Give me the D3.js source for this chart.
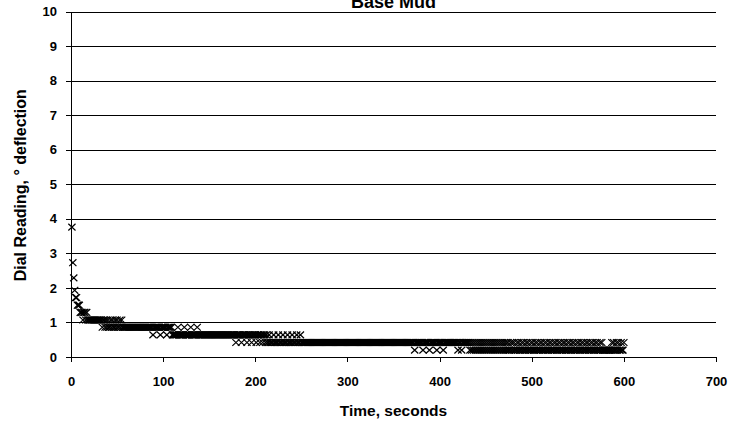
<!DOCTYPE html>
<html><head><meta charset="utf-8">
<script src="https://cdn.jsdelivr.net/npm/d3@7"></script>
<style>
body{margin:0;background:#fff}
svg{display:block}
text{font-family:"Liberation Sans",Arial,sans-serif;font-weight:bold;fill:#000}
</style>
</head><body>
<svg id="chart" width="733" height="429"></svg>
<script>
const chartTitle = "Base Mud";
const xTitle = "Time, seconds";
const yTitle = "Dial Reading, ° deflection";
const xTickValues = [0, 100, 200, 300, 400, 500, 600, 700];
const yTickValues = [0, 1, 2, 3, 4, 5, 6, 7, 8, 9, 10];
const firstSecond = 1; // logger records one reading per second
// dial readings, one per second, from t = 1 s to t = 600 s
const readings = [
3.76,2.73,2.29,1.93,1.72,1.72,1.5,1.5,1.5,1.29,1.29,1.29,1.07,1.29,1.29,1.07,1.29,1.07,1.07,1.07,
1.07,1.07,1.07,1.07,1.07,1.07,1.07,1.07,1.07,1.07,1.07,1.07,1.07,0.86,1.07,1.07,0.86,1.07,0.86,1.07,
0.86,0.86,1.07,0.86,1.07,0.86,0.86,1.07,0.86,1.07,0.86,0.86,1.07,0.86,1.07,0.86,0.86,0.86,0.86,0.86,
0.86,0.86,0.86,0.86,0.86,0.86,0.86,0.86,0.86,0.86,0.86,0.86,0.86,0.86,0.86,0.86,0.86,0.86,0.86,0.86,
0.86,0.86,0.86,0.86,0.86,0.86,0.86,0.86,0.64,0.86,0.86,0.86,0.86,0.86,0.86,0.86,0.64,0.86,0.86,0.86,
0.86,0.86,0.86,0.64,0.86,0.86,0.86,0.86,0.86,0.64,0.64,0.64,0.64,0.64,0.64,0.86,0.64,0.64,0.64,0.64,
0.64,0.64,0.86,0.64,0.64,0.64,0.64,0.64,0.64,0.86,0.64,0.64,0.64,0.64,0.64,0.64,0.86,0.64,0.64,0.64,
0.64,0.64,0.64,0.64,0.64,0.64,0.64,0.64,0.64,0.64,0.64,0.64,0.64,0.64,0.64,0.64,0.64,0.64,0.64,0.64,
0.64,0.64,0.64,0.64,0.64,0.64,0.64,0.64,0.64,0.64,0.64,0.64,0.64,0.64,0.64,0.64,0.64,0.64,0.42,0.64,
0.64,0.64,0.64,0.64,0.42,0.64,0.64,0.64,0.64,0.64,0.42,0.64,0.64,0.64,0.64,0.42,0.64,0.64,0.64,0.64,
0.42,0.64,0.64,0.64,0.42,0.64,0.64,0.42,0.64,0.64,0.42,0.64,0.42,0.42,0.64,0.42,0.42,0.42,0.42,0.64,
0.42,0.42,0.42,0.42,0.64,0.42,0.42,0.42,0.42,0.64,0.42,0.42,0.42,0.42,0.64,0.42,0.42,0.42,0.42,0.64,
0.42,0.42,0.42,0.42,0.64,0.42,0.42,0.42,0.64,0.42,0.42,0.42,0.42,0.42,0.42,0.42,0.42,0.42,0.42,0.42,
0.42,0.42,0.42,0.42,0.42,0.42,0.42,0.42,0.42,0.42,0.42,0.42,0.42,0.42,0.42,0.42,0.42,0.42,0.42,0.42,
0.42,0.42,0.42,0.42,0.42,0.42,0.42,0.42,0.42,0.42,0.42,0.42,0.42,0.42,0.42,0.42,0.42,0.42,0.42,0.42,
0.42,0.42,0.42,0.42,0.42,0.42,0.42,0.42,0.42,0.42,0.42,0.42,0.42,0.42,0.42,0.42,0.42,0.42,0.42,0.42,
0.42,0.42,0.42,0.42,0.42,0.42,0.42,0.42,0.42,0.42,0.42,0.42,0.42,0.42,0.42,0.42,0.42,0.42,0.42,0.42,
0.42,0.42,0.42,0.42,0.42,0.42,0.42,0.42,0.42,0.42,0.42,0.42,0.42,0.42,0.42,0.42,0.42,0.42,0.42,0.42,
0.42,0.42,0.42,0.42,0.42,0.42,0.42,0.42,0.42,0.42,0.42,0.42,0.2,0.42,0.42,0.42,0.42,0.42,0.42,0.42,
0.42,0.2,0.42,0.42,0.42,0.42,0.42,0.42,0.2,0.42,0.42,0.42,0.42,0.42,0.42,0.42,0.2,0.42,0.42,0.42,
0.42,0.42,0.42,0.2,0.42,0.42,0.42,0.42,0.42,0.42,0.42,0.42,0.42,0.42,0.42,0.42,0.42,0.42,0.42,0.2,
0.42,0.42,0.42,0.2,0.42,0.42,0.42,0.42,0.42,0.42,0.42,0.42,0.2,0.42,0.2,0.42,0.2,0.42,0.2,0.42,
0.2,0.42,0.2,0.42,0.2,0.42,0.2,0.42,0.2,0.42,0.2,0.42,0.2,0.42,0.2,0.42,0.2,0.42,0.2,0.42,
0.2,0.42,0.2,0.42,0.2,0.42,0.2,0.42,0.2,0.42,0.2,0.42,0.2,0.42,0.2,0.2,0.42,0.2,0.42,0.2,
0.42,0.2,0.2,0.42,0.2,0.42,0.2,0.2,0.42,0.2,0.42,0.2,0.2,0.42,0.2,0.42,0.2,0.2,0.42,0.2,
0.42,0.2,0.2,0.42,0.2,0.42,0.2,0.2,0.42,0.2,0.42,0.2,0.2,0.42,0.2,0.42,0.2,0.2,0.42,0.2,
0.42,0.2,0.2,0.42,0.2,0.42,0.2,0.2,0.42,0.2,0.42,0.2,0.2,0.42,0.2,0.42,0.2,0.2,0.42,0.2,
0.42,0.2,0.2,0.42,0.2,0.42,0.2,0.2,0.42,0.2,0.42,0.2,0.2,0.42,0.2,0.42,0.2,0.2,0.42,0.2,
0.42,0.2,0.2,0.42,0.2,0.42,0.2,0.2,0.42,0.2,0.42,0.2,0.2,0.42,0.2,0.42,0.2,0.2,0.2,0.2,
0.2,0.2,0.2,0.2,0.2,0.2,0.42,0.2,0.42,0.2,0.2,0.42,0.2,0.42,0.2,0.2,0.42,0.2,0.2,0.42
];
const points = readings.map((v, i) => ({ t: firstSecond + i, v }));

const svg = d3.select("#chart");
const x = d3.scaleLinear().domain([0, 700]).range([71, 716]);
const y = d3.scaleLinear().domain([0, 10]).range([357, 11.5]);
const fontFam = "Liberation Sans, Arial, sans-serif";

// horizontal gridlines
svg.append("g")
  .attr("transform", `translate(${x(0)},0)`)
  .call(d3.axisLeft(y).tickValues(yTickValues.filter(d => d > 0)).tickSize(-(x(700) - x(0))).tickFormat(""))
  .call(g => g.select(".domain").remove())
  .call(g => g.selectAll("line").attr("stroke", "#000").attr("stroke-width", 1).attr("shape-rendering", "crispEdges"));

// markers
const m = 3.6, h = 3.4;
svg.append("g").selectAll("path").data(points).join("path")
  .attr("transform", d => `translate(${x(d.t)},${y(d.v)})`)
  .attr("d", `M${-m},${-h}L${m},${h}M${-m},${h}L${m},${-h}`)
  .attr("fill", "none").attr("stroke", "#000").attr("stroke-width", 1.2);

// y axis
svg.append("g")
  .attr("transform", `translate(${x(0)},0)`)
  .call(d3.axisLeft(y).tickValues(yTickValues).tickSize(5).tickPadding(9).tickFormat(d3.format("d")))
  .call(g => g.selectAll("line,path").attr("stroke", "#000").attr("shape-rendering", "crispEdges"))
  .call(g => g.selectAll("text").attr("font-size", 13).attr("font-family", fontFam).attr("font-weight", "bold"));

// x axis
svg.append("g")
  .attr("transform", `translate(0,${y(0)})`)
  .call(d3.axisBottom(x).tickValues(xTickValues).tickSize(5).tickPadding(15).tickFormat(d3.format("d")))
  .call(g => g.selectAll("line,path").attr("stroke", "#000").attr("shape-rendering", "crispEdges"))
  .call(g => g.selectAll("text").attr("font-size", 13).attr("font-family", fontFam).attr("font-weight", "bold"));

svg.append("text").attr("x", (x(0) + x(700)) / 2).attr("y", 8)
  .attr("text-anchor", "middle").attr("font-size", 18).text(chartTitle);
svg.append("text").attr("x", (x(0) + x(700)) / 2).attr("y", 416)
  .attr("text-anchor", "middle").attr("font-size", 15.5).text(xTitle);
svg.append("text").attr("transform", `translate(26,${y(5) + 1}) rotate(-90)`)
  .attr("text-anchor", "middle").attr("font-size", 16).text(yTitle);
</script>
</body></html>
